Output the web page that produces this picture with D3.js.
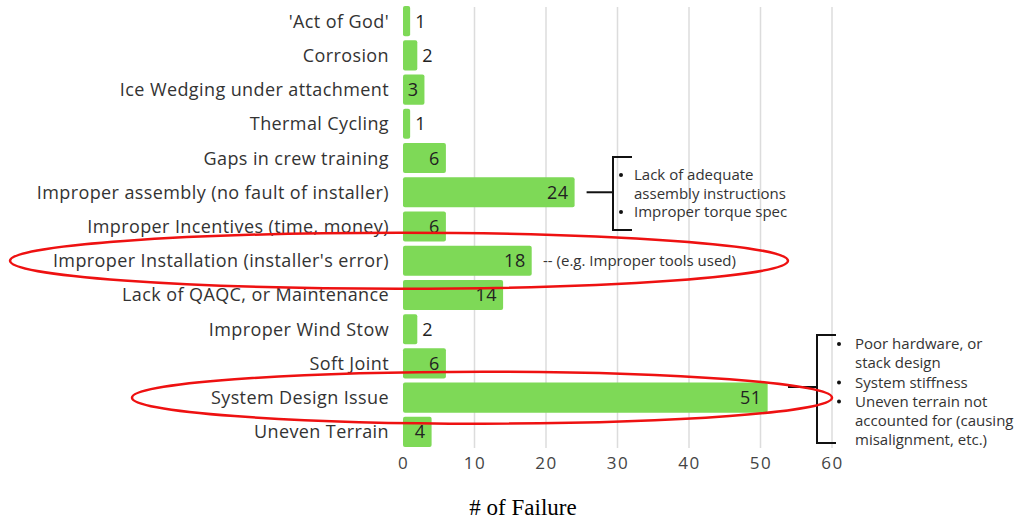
<!DOCTYPE html>
<html>
<head>
<meta charset="utf-8">
<script src="https://cdn.jsdelivr.net/npm/d3@7"></script>
<style>
  body { margin: 0; background: #fff; }
  svg { display: block; }
</style>
</head>
<body>
<svg id="chart" width="1018" height="520"></svg>
<script>
// data
const categories = [
    "'Act of God'",
    'Corrosion',
    'Ice Wedging under attachment',
    'Thermal Cycling',
    'Gaps in crew training',
    'Improper assembly (no fault of installer)',
    'Improper Incentives (time, money)',
    "Improper Installation (installer's error)",
    'Lack of QAQC, or Maintenance',
    'Improper Wind Stow',
    'Soft Joint',
    'System Design Issue',
    'Uneven Terrain',
]
const failures = [1, 2, 3, 1, 6, 24, 6, 18, 14, 2, 6, 51, 4]
const xTicks = [0, 10, 20, 30, 40, 50, 60]
const xTitle = '# of Failure'

const assemblyNotes = ['Lack of adequate', 'assembly instructions', 'Improper torque spec']
const assemblyBullets = [0, 2]
const installNote = '-- (e.g. Improper tools used)'
const designNotes = [
    'Poor hardware, or',
    'stack design',
    'System stiffness',
    'Uneven terrain not',
    'accounted for (causing',
    'misalignment, etc.)',
]
const designBullets = [0, 2, 3]
const circled = ["Improper Installation (installer's error)", 'System Design Issue']

const font = "'Open Sans', 'DejaVu Sans', sans-serif"
const svg = d3.select('#chart')

const x = d3.scaleLinear().domain([0, 60]).range([403, 832])
const y = d3.scaleBand().domain(categories).range([4, 449]).paddingInner(0.12).paddingOuter(0.06)

// gridlines
svg.append('g')
    .selectAll('line')
    .data(xTicks.slice(1))
    .enter()
    .append('line')
    .attr('x1', (d) => x(d))
    .attr('x2', (d) => x(d))
    .attr('y1', 7)
    .attr('y2', 448)
    .attr('stroke', '#dcdcdc')
    .attr('stroke-width', 1.5)

// bars
const rows = categories.map((c, i) => ({ name: c, value: failures[i] }))

svg.append('g')
    .selectAll('rect')
    .data(rows)
    .enter()
    .append('rect')
    .attr('x', x(0))
    .attr('y', (d) => y(d.name))
    .attr('width', (d) => x(d.value) - x(0))
    .attr('height', y.bandwidth())
    .attr('rx', 2)
    .attr('fill', '#7ed957')

// value labels
svg.append('g')
    .selectAll('text')
    .data(rows)
    .enter()
    .append('text')
    .attr('x', (d) => (d.value >= 3 ? x(d.value) - 6 : x(d.value) + 5))
    .attr('y', (d) => y(d.name) + y.bandwidth() / 2)
    .attr('dy', '0.36em')
    .attr('text-anchor', (d) => (d.value >= 3 ? 'end' : 'start'))
    .attr('font-family', font)
    .attr('font-size', 18)
    .attr('letter-spacing', 0.5)
    .attr('fill', '#222')
    .text((d) => d.value)

// category labels
svg.append('g')
    .selectAll('text')
    .data(categories)
    .enter()
    .append('text')
    .attr('x', 389)
    .attr('y', (d) => y(d) + y.bandwidth() / 2)
    .attr('dy', '0.36em')
    .attr('text-anchor', 'end')
    .attr('font-family', font)
    .attr('font-size', 18)
    .attr('letter-spacing', 0.4)
    .attr('fill', '#333')
    .text((d) => d)

// x axis
const xAxis = svg.append('g')
    .attr('transform', 'translate(0,457)')
    .call(d3.axisBottom(x).tickValues(xTicks).tickSize(0).tickPadding(0))
xAxis.select('.domain').remove()
xAxis.selectAll('text')
    .attr('font-family', font)
    .attr('font-size', 17)
    .attr('letter-spacing', 1.5)
    .attr('fill', '#444')

svg.append('text')
    .attr('x', 523)
    .attr('y', 515)
    .attr('text-anchor', 'middle')
    .attr('font-family', "'Liberation Serif', 'Times New Roman', serif")
    .attr('font-size', 23)
    .attr('fill', '#000')
    .text(xTitle)

// annotations
const bracket = (lineY, xFrom, xBar, top, bottom) => {
    const g = svg.append('g').attr('fill', 'none').attr('stroke', '#111').attr('stroke-width', 2)
    g.append('line').attr('x1', xFrom).attr('x2', xBar).attr('y1', lineY).attr('y2', lineY)
    g.append('path').attr('d', `M${xBar + 19},${top}H${xBar}V${bottom}H${xBar + 19}`)
}

const noteBlock = (lines, bullets, bx, tx, y0, lh, size) => {
    const g = svg.append('g')
    g.selectAll('text')
        .data(lines)
        .enter()
        .append('text')
        .attr('x', tx)
        .attr('y', (d, i) => y0 + i * lh)
        .attr('dy', '0.35em')
        .attr('font-family', font)
        .attr('font-size', size)
        .attr('fill', '#333')
        .text((d) => d)
    g.selectAll('circle')
        .data(bullets)
        .enter()
        .append('circle')
        .attr('cx', bx)
        .attr('cy', (d) => y0 + d * lh)
        .attr('r', 2)
        .attr('fill', '#111')
}

const asmY = y(categories[5]) + y.bandwidth() / 2
bracket(asmY, x(failures[5]) + 12, 613, 157, 230)
noteBlock(assemblyNotes, assemblyBullets, 621, 634, 175, 18.5, 15)

svg.append('text')
    .attr('x', 543)
    .attr('y', y(categories[7]) + y.bandwidth() / 2)
    .attr('dy', '0.35em')
    .attr('font-family', font)
    .attr('font-size', 15)
    .attr('fill', '#333')
    .text(installNote)

bracket(387, 788, 817, 335, 443)
noteBlock(designNotes, designBullets, 839, 855, 344, 19.2, 15)

// red ellipses around the two main causes
const ellipses = [
    { name: circled[0], cx: 399, rx: 389, ry: 28 },
    { name: circled[1], cx: 482, rx: 350, ry: 26 },
]
svg.append('g')
    .selectAll('ellipse')
    .data(ellipses)
    .enter()
    .append('ellipse')
    .attr('cx', (d) => d.cx)
    .attr('cy', (d) => y(d.name) + y.bandwidth() / 2)
    .attr('rx', (d) => d.rx)
    .attr('ry', (d) => d.ry)
    .attr('fill', 'none')
    .attr('stroke', '#ee1111')
    .attr('stroke-width', 2.5)
</script>
</body>
</html>
